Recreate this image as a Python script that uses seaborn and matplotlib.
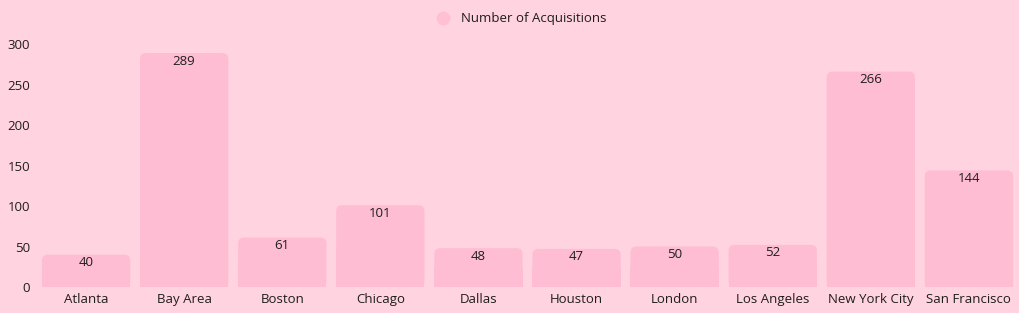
import matplotlib
matplotlib.use("Agg")
import matplotlib.pyplot as plt
import seaborn as sns
import pandas as pd
from matplotlib.patches import FancyBboxPatch, Rectangle
from matplotlib.lines import Line2D

cities = ["Atlanta", "Bay Area", "Boston", "Chicago", "Dallas", "Houston",
          "London", "Los Angeles", "New York City", "San Francisco"]
acquisitions = [40, 289, 61, 101, 48, 47, 50, 52, 266, 144]
yticks = [0, 50, 100, 150, 200, 250, 300]
series_name = "Number of Acquisitions"

bg = "#FFD3E0"
bar_color = "#FFBDD3"
text_color = "#1E1E1E"

sns.set_theme(style="white")
plt.rcParams["font.family"] = ["Open Sans", "DejaVu Sans"]

df = pd.DataFrame({"city": cities, "value": acquisitions})

fig = plt.figure(figsize=(10.2, 3.13), dpi=100, facecolor=bg)
ax = fig.add_axes([0.0363, 0.0831, 0.9617, 0.776])
ax.set_facecolor(bg)

sns.barplot(data=df, x="city", y="value", color=bar_color, width=0.9,
            saturation=1, ax=ax)

ax.set_ylim(0, 300)
ax.set_xlim(-0.5, len(cities) - 0.5)

fig.canvas.draw()
bbox = ax.get_window_extent()
px_per_x = bbox.width / len(cities)
px_per_y = bbox.height / 300
aspect = px_per_x / px_per_y

for p in list(ax.patches):
    x, y, w, h = p.get_x(), p.get_y(), p.get_width(), p.get_height()
    p.remove()
    r = 6 / px_per_x
    fb = FancyBboxPatch((x, y), w, h,
                        boxstyle=f"round,pad=0,rounding_size={r}",
                        mutation_aspect=aspect, facecolor=bar_color,
                        edgecolor="none", zorder=2)
    ax.add_patch(fb)
    ax.add_patch(Rectangle((x, y), w, h / 2, facecolor=bar_color,
                           edgecolor="none", zorder=2))

for i, v in enumerate(acquisitions):
    ax.annotate(str(v), xy=(i, v), xytext=(0, -8), textcoords="offset pixels",
                ha="center", va="center", fontsize=9.5, color=text_color,
                zorder=3)

ax.set_yticks(yticks)
ax.set_yticklabels([str(t) for t in yticks])
ax.tick_params(axis="both", length=0, labelsize=9.5, labelcolor=text_color)
ax.tick_params(axis="y", pad=5)
ax.tick_params(axis="x", pad=4)
ax.set_xlabel("")
ax.set_ylabel("")
for s in ax.spines.values():
    s.set_visible(False)
ax.grid(False)

handle = Line2D([], [], marker="o", linestyle="none", markersize=10,
                markerfacecolor="#FFC0D4", markeredgecolor="none")
fig.legend([handle], [series_name], loc="center", bbox_to_anchor=(0.508, 0.94),
           frameon=False, fontsize=9.5, labelcolor=text_color,
           handletextpad=0.3)

fig.savefig("out.png", dpi=100, facecolor=bg)
